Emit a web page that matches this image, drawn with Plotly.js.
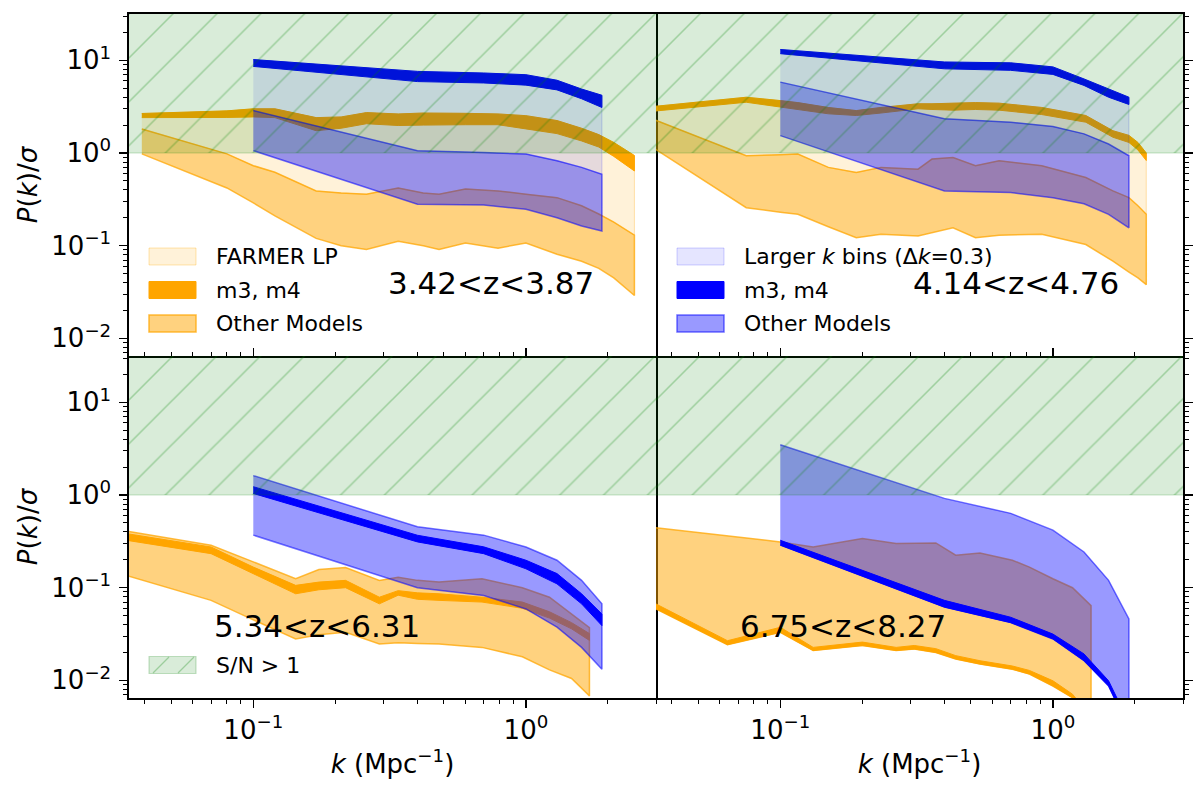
<!DOCTYPE html>
<html>
<head>
<meta charset="utf-8">
<script src="https://cdn.plot.ly/plotly-3.0.1.min.js"></script>
<style>
  html, body { margin: 0; padding: 0; background: #fff; }
  #chart { width: 1200px; height: 793px; }
</style>
</head>
<body>
<div id="chart"></div>
<script>
// values (P(k)/sigma, log axes)

// larger k bins, dk = 0.3 (blue bands, all slices)
const kBins = [0.1, 0.4, 0.7, 1.0, 1.3, 1.6, 1.9];

// S/N > 1 region
const snK = [0.03, 4];
const snY = [1, 100];

// 3.42<z<3.87
const kFine1 = [0.039, 0.08, 0.1, 0.12, 0.17, 0.21, 0.26, 0.34, 0.42, 0.48, 0.6, 0.79, 1.0, 1.3, 1.6, 1.85, 2.1, 2.5];
const m34Up1 = [2.67, 2.85, 3.0, 3.0, 2.41, 2.45, 2.73, 2.64, 2.7, 2.71, 2.68, 2.64, 2.53, 2.24, 1.85, 1.58, 1.3, 0.94];
const m34Lo1 = [2.41, 2.42, 2.45, 2.41, 1.74, 1.85, 2.07, 1.98, 2.0, 2.02, 2.02, 2.02, 1.82, 1.62, 1.35, 1.16, 0.92, 0.64];
const othUp1 = [1.82, 0.98, 0.73, 0.62, 0.39, 0.37, 0.36, 0.42, 0.37, 0.36, 0.41, 0.39, 0.36, 0.33, 0.27, 0.22, 0.18, 0.13];
const othLo1 = [0.98, 0.42, 0.29, 0.21, 0.12, 0.10, 0.091, 0.112, 0.10, 0.091, 0.107, 0.094, 0.107, 0.081, 0.068, 0.057, 0.045, 0.029];
const bm34Up1 = [10.2, 7.6, 7.3, 7.0, 6.1, 4.9, 4.2];
const bm34Lo1 = [8.6, 5.9, 5.7, 5.4, 4.8, 3.85, 3.1];
const bothUp1 = [2.87, 1.06, 1.01, 0.975, 0.825, 0.70, 0.59];
const bothLo1 = [1.06, 0.28, 0.275, 0.247, 0.20, 0.163, 0.144];

// 4.14<z<4.76
const kFine2 = [0.034, 0.075, 0.1, 0.116, 0.15, 0.19, 0.234, 0.32, 0.36, 0.43, 0.52, 0.635, 0.91, 1.32, 1.66, 1.9, 2.05, 2.2];
const m34Up2 = [3.17, 4.0, 3.68, 3.5, 3.1, 2.87, 3.1, 3.4, 3.4, 3.45, 3.5, 3.45, 3.1, 2.54, 1.74, 1.55, 1.3, 1.0];
const m34Lo2 = [2.82, 3.53, 3.12, 2.95, 2.65, 2.54, 2.7, 3.0, 2.95, 2.9, 2.95, 2.9, 2.6, 2.15, 1.48, 1.3, 1.08, 0.83];
const othUp2 = [2.33, 0.935, 0.96, 0.975, 0.70, 0.617, 0.70, 0.67, 0.86, 0.896, 0.73, 0.825, 0.73, 0.545, 0.39, 0.33, 0.27, 0.218];
const othLo2 = [1.15, 0.257, 0.23, 0.218, 0.16, 0.122, 0.133, 0.127, 0.138, 0.156, 0.122, 0.13, 0.133, 0.103, 0.068, 0.052, 0.045, 0.038];
const bm34Up2 = [13.1, 9.6, 9.4, 8.5, 6.3, 4.9, 4.0];
const bm34Lo2 = [11.8, 8.1, 7.8, 7.05, 5.36, 4.0, 3.34];
const bothUp2 = [5.82, 2.34, 2.15, 1.93, 1.61, 1.25, 0.935];
const bothLo2 = [1.54, 0.39, 0.374, 0.33, 0.284, 0.218, 0.156];

// 5.34<z<6.31
const kFine3 = [0.034, 0.07, 0.1, 0.143, 0.174, 0.218, 0.29, 0.34, 0.4, 0.48, 0.69, 0.97, 1.22, 1.47, 1.71];
const m34Up3 = [0.385, 0.275, 0.167, 0.106, 0.115, 0.12, 0.079, 0.093, 0.088, 0.086, 0.079, 0.07, 0.055, 0.042, 0.032];
const m34Lo3 = [0.326, 0.233, 0.142, 0.086, 0.095, 0.10, 0.067, 0.083, 0.075, 0.073, 0.07, 0.06, 0.047, 0.036, 0.027];
const othUp3 = [0.41, 0.287, 0.19, 0.125, 0.157, 0.165, 0.12, 0.13, 0.12, 0.115, 0.125, 0.10, 0.079, 0.052, 0.037];
const othLo3 = [0.136, 0.073, 0.045, 0.028, 0.031, 0.033, 0.0247, 0.0255, 0.025, 0.0247, 0.0227, 0.018, 0.013, 0.0105, 0.0068];
const bm34Up3 = [1.23, 0.368, 0.276, 0.198, 0.142, 0.086, 0.052];
const bm34Lo3 = [1.04, 0.312, 0.233, 0.16, 0.11, 0.067, 0.039];
const bothUp3 = [1.62, 0.454, 0.369, 0.275, 0.198, 0.12, 0.067];
const bothLo3 = [0.369, 0.10, 0.0825, 0.059, 0.0375, 0.0227, 0.0132];

// 6.75<z<8.27
const kFine4 = [0.034, 0.064, 0.1, 0.132, 0.2, 0.266, 0.31, 0.372, 0.44, 0.54, 0.71, 0.82, 1.0, 1.18, 1.38];
const m34Up4 = [0.0698, 0.0268, 0.0374, 0.0227, 0.0259, 0.0227, 0.0238, 0.022, 0.0185, 0.0163, 0.0143, 0.0128, 0.0099, 0.0071, 0.004];
const m34Lo4 = [0.0617, 0.0243, 0.033, 0.021, 0.0238, 0.021, 0.0218, 0.020, 0.017, 0.015, 0.0132, 0.0117, 0.0087, 0.0065, 0.0035];
const othUp4 = [0.447, 0.362, 0.312, 0.275, 0.34, 0.30, 0.30, 0.304, 0.224, 0.237, 0.198, 0.167, 0.125, 0.10, 0.064];
const othLo4 = m34Lo4;
const bm34Up4 = [0.325, 0.073, 0.048, 0.0316, 0.0193, 0.0099, 0.0035];
const bm34Lo4 = [0.288, 0.0617, 0.042, 0.028, 0.0163, 0.0087, 0.003];
const bothUp4 = [3.48, 0.92, 0.634, 0.418, 0.243, 0.12, 0.046];
const bothLo4 = bm34Lo4;

const zLabels = ['3.42<z<3.87', '4.14<z<4.76', '5.34<z<6.31', '6.75<z<8.27'];

// ---- styles ----
const FONT = 'DejaVu Sans, Arial, sans-serif';
const S = {
  farmer: { fill: 'rgba(255,165,0,0.15)', line: 'rgba(255,165,0,0.3)', w: 1 },
  oM34:   { fill: 'rgb(255,165,0)', line: 'rgb(255,165,0)', w: 1 },
  oOth:   { fill: 'rgba(255,165,0,0.5)', line: 'rgba(255,165,0,0.75)', w: 1.5 },
  bBins:  { fill: 'rgba(0,0,255,0.1)', line: 'rgba(0,0,255,0.18)', w: 1 },
  bM34:   { fill: 'rgb(0,0,255)', line: 'rgb(0,0,255)', w: 1 },
  bOth:   { fill: 'rgba(0,0,255,0.4)', line: 'rgba(0,0,255,0.55)', w: 1.5 },
  sn:     { fill: 'rgba(0,128,0,0.15)', line: 'rgba(0,128,0,0.22)', hatch: 'rgba(0,128,0,0.28)' },
};

function band(x, up, lo, st, xa, ya) {
  return {
    x: x.concat(x.slice().reverse()),
    y: up.concat(lo.slice().reverse()),
    xaxis: xa, yaxis: ya, mode: 'lines', fill: 'toself',
    fillcolor: st.fill, line: { color: st.line, width: st.w },
    hoverinfo: 'skip', showlegend: false,
  };
}

const panels = [
  { xa: 'x',  ya: 'y',  k: kFine1, mu: m34Up1, ml: m34Lo1, ou: othUp1, ol: othLo1, bmu: bm34Up1, bml: bm34Lo1, bou: bothUp1, bol: bothLo1, light: true },
  { xa: 'x2', ya: 'y2', k: kFine2, mu: m34Up2, ml: m34Lo2, ou: othUp2, ol: othLo2, bmu: bm34Up2, bml: bm34Lo2, bou: bothUp2, bol: bothLo2, light: true },
  { xa: 'x3', ya: 'y3', k: kFine3, mu: m34Up3, ml: m34Lo3, ou: othUp3, ol: othLo3, bmu: bm34Up3, bml: bm34Lo3, bou: bothUp3, bol: bothLo3, light: false },
  { xa: 'x4', ya: 'y4', k: kFine4, mu: m34Up4, ml: m34Lo4, ou: othUp4, ol: othLo4, bmu: bm34Up4, bml: bm34Lo4, bou: bothUp4, bol: bothLo4, light: false },
];

const traces = [];
panels.forEach((p) => {
  if (p.light) traces.push(band(p.k, p.mu, p.ou, S.farmer, p.xa, p.ya));
  traces.push(band(p.k, p.ou, p.ol, S.oOth, p.xa, p.ya));
  traces.push(band(p.k, p.mu, p.ml, S.oM34, p.xa, p.ya));
  if (p.light) traces.push(band(kBins, p.bmu, p.bou, S.bBins, p.xa, p.ya));
  traces.push(band(kBins, p.bou, p.bol, S.bOth, p.xa, p.ya));
  traces.push(band(kBins, p.bmu, p.bml, S.bM34, p.xa, p.ya));
  // S/N > 1, hatched
  traces.push({
    x: [snK[0], snK[1], snK[1], snK[0], snK[0]],
    y: [snY[0], snY[0], snY[1], snY[1], snY[0]],
    xaxis: p.xa, yaxis: p.ya, mode: 'lines', fill: 'toself',
    fillcolor: S.sn.fill,
    fillpattern: { shape: '/', bgcolor: S.sn.fill, fgcolor: S.sn.hatch, size: 31, solidity: 0.05 },
    line: { color: S.sn.line, width: 1.2 },
    hoverinfo: 'skip', showlegend: false,
  });
});

// ---- axes ----
const minorVals = [];
for (let e = -3; e <= 2; e++) for (let d = 2; d <= 9; d++) minorVals.push(d * Math.pow(10, e));

const sup = (n) => '10<sup>' + (n < 0 ? '\u2212' + (-n) : n) + '</sup>';

// top panels draw the shared middle spine, bottom panels do not mirror it again
function xAxis(domain, anchor, bottom) {
  return {
    type: 'log', domain, anchor, range: [Math.log10(0.035), Math.log10(3)],
    showgrid: false, zeroline: false,
    showline: true, linecolor: '#000', linewidth: 1.6, mirror: !bottom,
    ticks: bottom ? 'outside' : 'inside', ticklen: 8, tickwidth: 1.4, tickcolor: '#000',
    tickmode: 'array', tickvals: [0.1, 1], ticktext: [sup(-1), sup(0)],
    showticklabels: bottom, tickfont: { family: FONT, size: 26, color: '#000' },
    minor: { tickmode: 'array', tickvals: minorVals, ticks: bottom ? 'outside' : 'inside', ticklen: 4.5, tickwidth: 1, tickcolor: '#000', showgrid: false },
    title: bottom ? { text: '<i>k</i> (Mpc<sup>\u22121</sup>)', font: { family: FONT, size: 26, color: '#000' }, standoff: 11 } : { text: '' },
  };
}

function yAxis(domain, anchor, left) {
  return {
    type: 'log', domain, anchor, range: [-2.19, 1.5], side: left ? 'left' : 'right',
    showgrid: false, zeroline: false,
    showline: true, linecolor: '#000', linewidth: 1.6, mirror: left,
    ticks: 'outside', ticklen: 8, tickwidth: 1.4, tickcolor: '#000',
    tickmode: 'array', tickvals: [0.01, 0.1, 1, 10], ticktext: [sup(-2), sup(-1), sup(0), sup(1)],
    showticklabels: left, tickfont: { family: FONT, size: 26, color: '#000' }, ticklabelstandoff: 3,
    minor: { tickmode: 'array', tickvals: minorVals, ticks: 'outside', ticklen: 4.5, tickwidth: 1, tickcolor: '#000', showgrid: false },
    title: left ? { text: '<i>P</i>(<i>k</i>)/<i>\u03c3</i>', font: { family: FONT, size: 26, color: '#000' }, standoff: 6 } : { text: '' },
  };
}

// ---- hand-made legends and labels (paper coordinates from pixel spots) ----
const L = 129, T = 14, W = 1054, H = 684;
const PX = (px) => (px - L) / W;
const PY = (py) => (T + H - py) / H;

const shapes = [];
const annotations = [];

function legendRow(x0, yc, label, st) {
  shapes.push({
    type: 'rect', xref: 'paper', yref: 'paper',
    x0: PX(x0), x1: PX(x0 + 47), y0: PY(yc + 8.5), y1: PY(yc - 8.5),
    fillcolor: st.fill, line: { color: st.line, width: st.w || 1.2 }, layer: 'above',
  });
  annotations.push({
    xref: 'paper', yref: 'paper', x: PX(x0 + 65), y: PY(yc), xanchor: 'left', yanchor: 'middle',
    text: label, showarrow: false, font: { family: FONT, size: 22, color: '#000' },
  });
}

const legRows = [256.5, 290, 323.5];
legendRow(149, legRows[0], 'FARMER LP', S.farmer);
legendRow(149, legRows[1], 'm3, m4', S.oM34);
legendRow(149, legRows[2], 'Other Models', S.oOth);
legendRow(677, legRows[0], 'Larger <i>k</i> bins (\u0394<i>k</i>=0.3)', S.bBins);
legendRow(677, legRows[1], 'm3, m4', S.bM34);
legendRow(677, legRows[2], 'Other Models', S.bOth);
legendRow(149, 665, 'S/N > 1', { fill: S.sn.fill, line: S.sn.line, w: 1.2 });
[153, 178].forEach((x) => {
  shapes.push({
    type: 'line', xref: 'paper', yref: 'paper',
    x0: PX(x), y0: PY(673), x1: PX(x + 16), y1: PY(657),
    line: { color: S.sn.hatch, width: 1.2 }, layer: 'above',
  });
});

const zPos = [[491, 283], [1016, 283], [317, 626], [843, 626]];
zLabels.forEach((t, i) => {
  annotations.push({
    xref: 'paper', yref: 'paper', x: PX(zPos[i][0]), y: PY(zPos[i][1]),
    xanchor: 'center', yanchor: 'middle', text: t, showarrow: false,
    font: { family: FONT, size: 31, color: '#000' },
  });
});

const layout = {
  width: 1200, height: 793,
  margin: { l: L, r: 1200 - L - W, t: T, b: 793 - T - H },
  paper_bgcolor: '#fff', plot_bgcolor: '#fff',
  showlegend: false,
  font: { family: FONT, color: '#000' },
  xaxis:  xAxis([0, 0.5], 'y', false),
  yaxis:  yAxis([0.5, 1], 'x', true),
  xaxis2: xAxis([0.5, 1], 'y2', false),
  yaxis2: yAxis([0.5, 1], 'x2', false),
  xaxis3: xAxis([0, 0.5], 'y3', true),
  yaxis3: yAxis([0, 0.5], 'x3', true),
  xaxis4: xAxis([0.5, 1], 'y4', true),
  yaxis4: yAxis([0, 0.5], 'x4', false),
  shapes, annotations,
};

Plotly.newPlot('chart', traces, layout, { displayModeBar: false, staticPlot: true });
</script>
</body>
</html>
